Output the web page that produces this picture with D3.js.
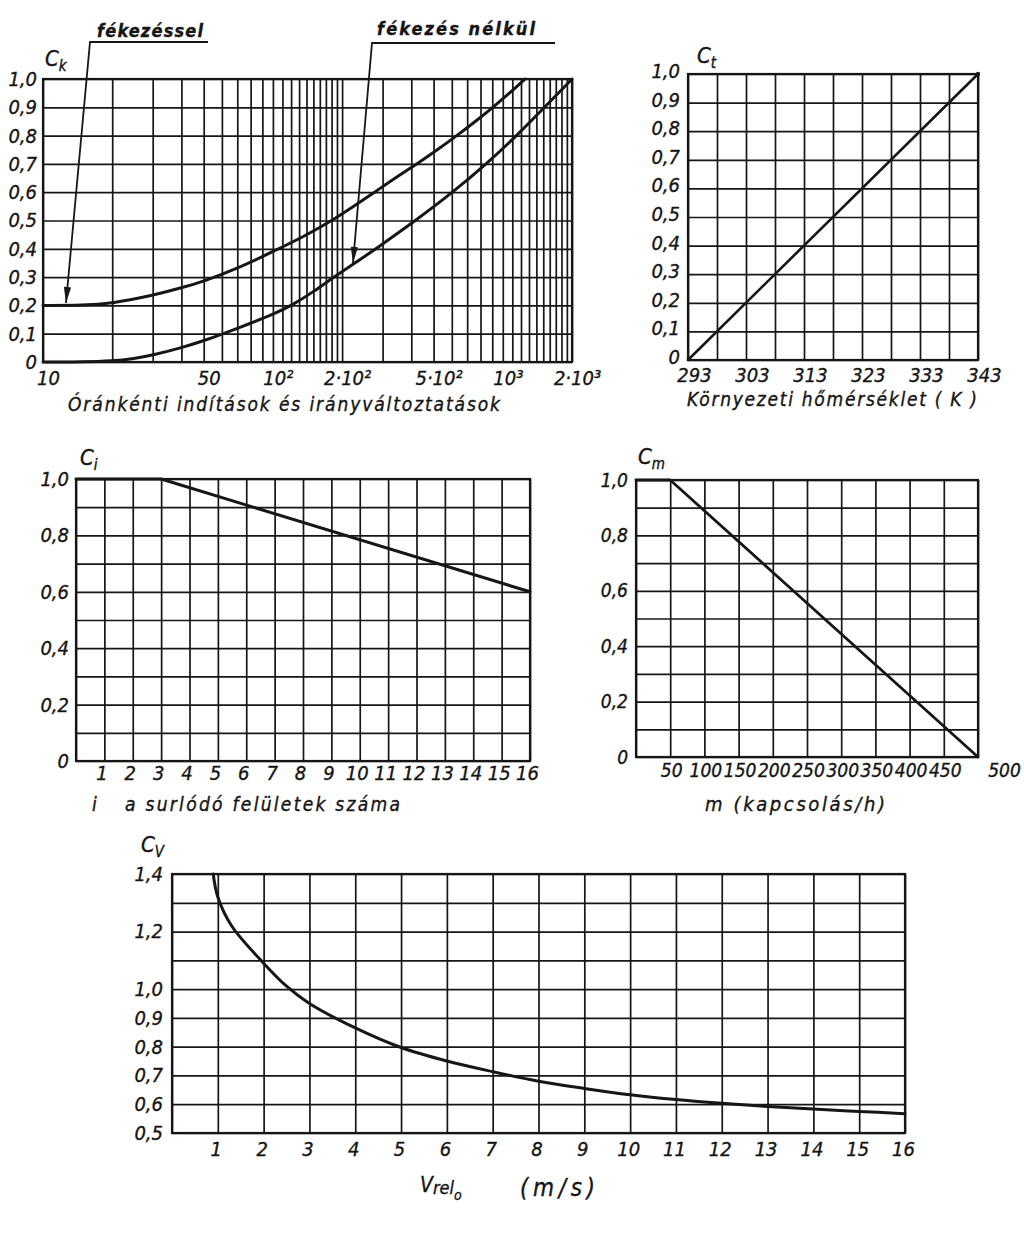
<!DOCTYPE html>
<html><head><meta charset="utf-8">
<script src="https://cdn.jsdelivr.net/npm/d3@7"></script>
<style>
body{margin:0;background:#fff;}
svg text{font-family:"DejaVu Sans Condensed","DejaVu Sans",sans-serif;font-style:italic;fill:#151515;stroke:#151515;stroke-width:0.35px;}
</style></head><body>
<svg id="c" width="1024" height="1234"></svg>
<script>
// ---------- DATA ----------
// Panel A: C_k vs starts/reversals per hour (log x)
const ckGridX = [10,20,30,40,50,60,70,80,90,100,110,120,130,140,150,160,170,180,190,200,300,400,500,600,700,800,900,1000,1100,1200,1300,1400,1500,1600,1700,1800,1900,2000];
const ckTickX = [10,50,100,200,500,1000,2000];
const ckTickXLabels = ["10","50","10²","2·10²","5·10²","10³","2·10³"];
const ckTickY = [0,0.1,0.2,0.3,0.4,0.5,0.6,0.7,0.8,0.9,1.0];
const ckBrakeX = [10,15,20,30,40,50,70,100,140,181,220,277,340,423,520,631,760,906,1070,1250];
const ckBrakeY = [0.2,0.2,0.207,0.235,0.262,0.285,0.33,0.39,0.448,0.5,0.545,0.6,0.65,0.7,0.75,0.8,0.85,0.9,0.95,1.0];
const ckNoBrakeX = [10,15,20,25,30,40,50,61,80,100,121,150,184,230,286,418,607,850,1150,1520,2000];
const ckNoBrakeY = [0,0,0.003,0.012,0.024,0.05,0.075,0.1,0.137,0.168,0.2,0.248,0.3,0.352,0.405,0.5,0.6,0.7,0.8,0.9,1.0];
const ckLabels = ["fékezéssel","fékezés nélkül"];

// Panel B: C_t vs ambient temperature
const ctGridX = [293,298,303,308,313,318,323,328,333,338,343];
const ctTickX = [293,303,313,323,333,343];
const ctTickY = [0,0.1,0.2,0.3,0.4,0.5,0.6,0.7,0.8,0.9,1.0];
const ctX = [293,343];
const ctY = [0,1.0];

// Panel C: C_i vs number of friction surfaces
const ciGridX = [0,1,2,3,4,5,6,7,8,9,10,11,12,13,14,15,16];
const ciTickX = [1,2,3,4,5,6,7,8,9,10,11,12,13,14,15,16];
const ciGridY = [0,0.1,0.2,0.3,0.4,0.5,0.6,0.7,0.8,0.9,1.0];
const ciTickY = [0,0.2,0.4,0.6,0.8,1.0];
const ciX = [0,3,16];
const ciY = [1.0,1.0,0.6];

// Panel D: C_m vs switchings per hour
const cmGridX = [0,50,100,150,200,250,300,350,400,450,500];
const cmTickX = [50,100,150,200,250,300,350,400,450,500];
const cmGridY = [0,0.1,0.2,0.3,0.4,0.5,0.6,0.7,0.8,0.9,1.0];
const cmTickY = [0,0.2,0.4,0.6,0.8,1.0];
const cmX = [0,50,500];
const cmY = [1.0,1.0,0];

// Panel E: C_v vs relative speed
const cvGridX = [0,1,2,3,4,5,6,7,8,9,10,11,12,13,14,15,16];
const cvTickX = [1,2,3,4,5,6,7,8,9,10,11,12,13,14,15,16];
const cvGridY = [0.5,0.6,0.7,0.8,0.9,1.0,1.1,1.2,1.3,1.4];
const cvTickY = [0.5,0.6,0.7,0.8,0.9,1.0,1.2,1.4];
const cvX = [0.9,1.0,1.3,2,2.5,3,4,5,6,7,8,9,10,11,12,13,14,15,16];
const cvY = [1.40,1.32,1.22,1.09,1.01,0.95,0.865,0.797,0.75,0.713,0.68,0.655,0.633,0.616,0.603,0.592,0.583,0.575,0.567];

// ---------- DRAWING ----------
const svg = d3.select('#c');
const INK = '#161616';
const comma = d => d === 0 ? '0' : d.toFixed(1).replace('.', ',');

function styleAxis(sel, fs){
  sel.attr('font-family', null).attr('font-size', null).attr('fill', null);
  sel.select('.domain').remove();
  sel.selectAll('text').attr('font-size', fs).attr('fill', INK);
}

function panel(o){
  const g = svg.append('g');
  const x = (o.log ? d3.scaleLog() : d3.scaleLinear()).domain(o.xd).range([o.L, o.R]);
  const y = d3.scaleLinear().domain(o.yd).range([o.B, o.T]);
  g.append('g').attr('transform', `translate(0,${o.B})`)
    .call(d3.axisBottom(x).tickValues(o.gridX).tickSize(-(o.B - o.T)).tickFormat(''))
    .call(s => { s.select('.domain').remove(); s.selectAll('line').attr('stroke', INK).attr('stroke-width', 1.7); });
  g.append('g').attr('transform', `translate(${o.L},0)`)
    .call(d3.axisLeft(y).tickValues(o.gridY).tickSize(-(o.R - o.L)).tickFormat(''))
    .call(s => { s.select('.domain').remove(); s.selectAll('line').attr('stroke', INK).attr('stroke-width', 1.7); });
  g.append('rect').attr('x', o.L).attr('y', o.T).attr('width', o.R - o.L).attr('height', o.B - o.T)
    .attr('fill', 'none').attr('stroke', INK).attr('stroke-width', 2.2);
  g.append('g').attr('transform', `translate(0,${o.B})`)
    .call(d3.axisBottom(x).tickValues(o.tickX).tickSize(0).tickPadding(o.xPad).tickFormat(o.xFmt))
    .call(s => styleAxis(s, o.fs))
    .selectAll('text').attr('dx', o.xDx || 0);
  g.append('g').attr('transform', `translate(${o.L},0)`)
    .call(d3.axisLeft(y).tickValues(o.tickY).tickSize(0).tickPadding(o.yPad).tickFormat(comma))
    .call(s => styleAxis(s, o.fs))
    .selectAll('text').attr('y', o.yDy || 0);
  const t = g.append('text').attr('x', o.cX).attr('y', o.cY).attr('font-size', 22);
  t.append('tspan').text('C');
  t.append('tspan').attr('font-size', 15).attr('dy', 5).text(o.sub);
  return {g, x, y};
}

function drawLine(p, xs, ys, curve, w){
  const data = xs.map((v, i) => [v, ys[i]]);
  p.g.append('path').datum(data)
    .attr('d', d3.line().x(d => p.x(d[0])).y(d => p.y(d[1])).curve(curve))
    .attr('fill', 'none').attr('stroke', INK).attr('stroke-width', w)
    .attr('stroke-linejoin', 'round').attr('stroke-linecap', 'round');
}

function title(txt, x, yb, len, fs){
  svg.append('text').attr('x', x).attr('y', yb).attr('font-size', fs || 19)
    .attr('textLength', len).attr('lengthAdjust', 'spacing').text(txt);
}

function leader(ux0, ux1, uy, tipX, tipY){
  const g = svg.append('g');
  g.append('polyline').attr('points', `${ux1},${uy} ${ux0},${uy} ${tipX},${tipY}`)
    .attr('fill', 'none').attr('stroke', INK).attr('stroke-width', 1.8);
  const dx = tipX - ux0, dy = tipY - uy, len = Math.hypot(dx, dy);
  const ux = dx / len, uy2 = dy / len, L = 16, W = 3.6;
  const bx = tipX - ux * L, by = tipY - uy2 * L;
  g.append('polygon').attr('points',
    `${tipX},${tipY} ${bx - uy2 * W},${by + ux * W} ${bx + uy2 * W},${by - ux * W}`).attr('fill', INK);
}

// Panel A
const pA = panel({L:43, R:572, T:79, B:362, log:true, xd:[10,2000], yd:[0,1],
  gridX: ckGridX, gridY: ckTickY, tickX: ckTickX, tickY: ckTickY,
  xFmt: d => ckTickXLabels[ckTickX.indexOf(d)], xPad: 9, xDx: 5, yPad: 6, fs: 20,
  cX: 45, cY: 66, sub: 'k'});
drawLine(pA, ckBrakeX, ckBrakeY, d3.curveBasis, 3);
drawLine(pA, ckNoBrakeX, ckNoBrakeY, d3.curveBasis, 3);
svg.append('text').attr('x', 97).attr('y', 37).attr('font-size', 18).attr('font-weight', 'bold')
  .attr('textLength', 106).attr('lengthAdjust', 'spacing').text(ckLabels[0]);
svg.append('text').attr('x', 377).attr('y', 35).attr('font-size', 18).attr('font-weight', 'bold')
  .attr('textLength', 158).attr('lengthAdjust', 'spacing').text(ckLabels[1]);
leader(90, 208, 42, 66, 303);
leader(372, 555, 43, 353, 263);
title('Óránkénti indítások és irányváltoztatások', 68, 411, 432, 19);

// Panel B
const pB = panel({L:688, R:978, T:74, B:360, xd:[293,343], yd:[0,1],
  gridX: ctGridX, gridY: ctTickY, tickX: ctTickX, tickY: ctTickY,
  xFmt: d3.format('d'), xPad: 8, xDx: 6, yPad: 8, yDy: -3, fs: 20,
  cX: 697, cY: 63, sub: 't'});
drawLine(pB, ctX, ctY, d3.curveLinear, 2.6);
pB.g.append('circle').attr('cx', pB.x(343)).attr('cy', pB.y(1)).attr('r', 2.2).attr('fill', INK);
title('Környezeti hőmérséklet ( K )', 687, 406, 290, 19);

// Panel C
const pC = panel({L:76, R:530, T:479, B:761, xd:[0,16], yd:[0,1],
  gridX: ciGridX, gridY: ciGridY, tickX: ciTickX, tickY: ciTickY,
  xFmt: d3.format('d'), xPad: 5, xDx: -3, yPad: 7, fs: 20,
  cX: 80, cY: 465, sub: 'i'});
drawLine(pC, ciX, ciY, d3.curveLinear, 3);
svg.append('text').attr('x', 92).attr('y', 811).attr('font-size', 19).text('i');
title('a surlódó felületek száma', 125, 811, 275, 19);

// Panel D
const pD = panel({L:636, R:978, T:480, B:757, xd:[0,500], yd:[0,1],
  gridX: cmGridX, gridY: cmGridY, tickX: cmTickX, tickY: cmTickY,
  xFmt: d3.format('d'), xPad: 7, xDx: 1, yPad: 8, fs: 19,
  cX: 638, cY: 464, sub: 'm'});
pD.g.selectAll('text').filter(function(){ return this.textContent === '500'; }).attr('dx', 26);
drawLine(pD, cmX, cmY, d3.curveLinear, 2.8);
title('m (kapcsolás/h)', 705, 811, 180, 20);

// Panel E
const pE = panel({L:172, R:905, T:874, B:1133, xd:[0,16], yd:[0.5,1.4],
  gridX: cvGridX, gridY: cvGridY, tickX: cvTickX, tickY: cvTickY,
  xFmt: d3.format('d'), xPad: 9, xDx: -2, yPad: 9, fs: 20,
  cX: 141, cY: 852, sub: 'V'});
drawLine(pE, cvX, cvY, d3.curveCatmullRom.alpha(0.5), 3);
const vt = svg.append('text').attr('x', 420).attr('y', 1192).attr('font-size', 21);
vt.append('tspan').text('V');
vt.append('tspan').attr('font-size', 18).attr('dy', 2).text('rel');
vt.append('tspan').attr('font-size', 14).attr('dy', 6).text('o');
svg.append('text').attr('x', 520).attr('y', 1196).attr('font-size', 24)
  .attr('textLength', 75).attr('lengthAdjust', 'spacing').text('(m/s)');
</script>
</body></html>
